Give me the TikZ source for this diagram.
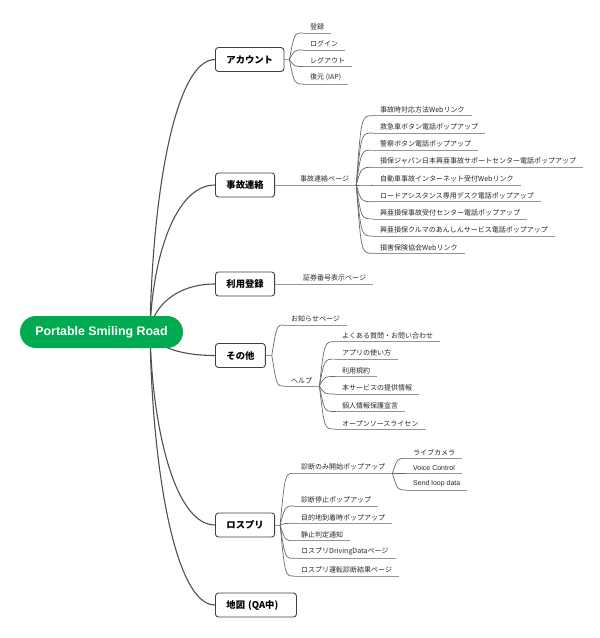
\documentclass[tikz,border=0pt]{standalone}
\usepackage{fontspec}
\setmainfont{Noto Sans CJK JP}
\newfontfamily\latinfont{Liberation Sans}
\usetikzlibrary{calc,backgrounds}

\definecolor{rootgreen}{RGB}{0,170,80}
\definecolor{trunkgray}{RGB}{80,80,80}
\definecolor{twiggray}{RGB}{105,105,105}
\definecolor{undergray}{RGB}{150,150,150}

\begin{document}
\begin{tikzpicture}[x=1pt,y=-1pt,
  root node/.style={rounded corners=16pt,fill=rootgreen,text=white,minimum width=163pt,minimum height=32pt,font=\latinfont\bfseries\fontsize{12.4}{14}\selectfont},
  main node/.style={anchor=west,draw=black!75,line width=0.9pt,rounded corners=3pt,fill=white,minimum height=24pt,inner xsep=11pt,font=\bfseries\fontsize{9.3}{11}\selectfont},
  under/.style={draw=undergray,line width=0.7pt},
  leaf/.style={anchor=south west,inner xsep=7pt,inner ysep=2.5pt,text=black!85,font=\fontsize{7}{8}\selectfont,
    append after command={(\tikzlastnode.south west) edge[under] (\tikzlastnode.south east)}},
  trunk/.style={draw=trunkgray,line width=1.1pt,
    to path={.. controls ($(\tikztostart)!.5!(\tikztostart |- \tikztotarget)+(2,0)$) and ($(\tikztotarget)+(-40,0)$) .. (\tikztotarget)}},
  twig/.style={draw=twiggray,line width=0.7pt,
    to path={.. controls ($(\tikztostart |- \tikztotarget)+(5,0)$) .. (\tikztotarget)}}]

  \useasboundingbox (0,0) rectangle (600,638);

  \node[root node] (root) at (101.5,332) {Portable Smiling Road};
  \coordinate (rootc) at (150,332);

  \node[main node] (acct) at (215,59.5) {アカウント};
  \node[main node] (jiko) at (215,185) {事故連絡};
  \node[main node] (riyou) at (215,284) {利用登録};
  \node[main node] (sonota) at (215,355.5) {その他};
  \node[main node] (rospuri) at (215,525) {ロスプリ};
  \node[main node,text width=59pt] (chizu) at (215,605) {地図 (QA中)};

  % アカウント
  \coordinate (acct-hub) at ($(acct.east)+(5,0)$);
  \node[leaf] (touroku) at (303,33) {登録};
  \node[leaf] (login) at (303,50) {ログイン};
  \node[leaf] (logout) at (303,66.5) {レグアウト};
  \node[leaf] (restore) at (303,84) {復元 (IAP)};

  % 事故連絡
  \node[leaf] (jikopage) at (293,185) {事故連絡ページ};
  \node[leaf] (j1) at (373,115.7) {事故時対応方法Webリンク};
  \node[leaf] (j2) at (373,132.9) {救急車ボタン電話ポップアップ};
  \node[leaf] (j3) at (373,150.1) {警察ボタン電話ポップアップ};
  \node[leaf] (j4) at (373,167.3) {損保ジャパン日本興亜事故サポートセンター電話ポップアップ};
  \node[leaf] (j5) at (373,185) {自動車事故インターネット受付Webリンク};
  \node[leaf] (j6) at (373,201.7) {ロードアシスタンス専用デスク電話ポップアップ};
  \node[leaf] (j7) at (373,218.9) {興亜損保事故受付センター電話ポップアップ};
  \node[leaf] (j8) at (373,236.1) {興亜損保クルマのあんしんサービス電話ポップアップ};
  \node[leaf] (j9) at (373,253.3) {損害保険協会Webリンク};

  % 利用登録
  \node[leaf] (shouken) at (296,284) {証券番号表示ページ};

  % その他
  \coordinate (sonota-hub) at ($(sonota.east)+(6,0)$);
  \node[leaf] (oshirase) at (284,325) {お知らせページ};
  \node[leaf] (help) at (284,386) {ヘルプ};
  \node[leaf] (h1) at (335,341.7) {よくある質問・お問い合わせ};
  \node[leaf] (h2) at (335,359.1) {アプリの使い方};
  \node[leaf] (h3) at (335,376.5) {利用規約};
  \node[leaf] (h4) at (335,394) {本サービスの提供情報};
  \node[leaf] (h5) at (335,411.5) {個人情報保護宣言};
  \node[leaf] (h6) at (335,429) {オープンソースライセン};

  % ロスプリ
  \coordinate (rospuri-hub) at ($(rospuri.east)+(5,0)$);
  \node[leaf] (shindan) at (294,473.3) {診断のみ開始ポップアップ};
  \node[leaf] (camera) at (406,458.3) {ライブカメラ};
  \node[leaf] (voice) at (406,473.3) {\latinfont Voice Control};
  \node[leaf] (loop) at (406,490) {\latinfont Send loop data};
  \node[leaf] (r2) at (294,506) {診断停止ポップアップ};
  \node[leaf] (r3) at (294,523.3) {目的地到着時ポップアップ};
  \node[leaf] (r4) at (294,540.7) {静止判定通知};
  \node[leaf] (r5) at (294,558.3) {ロスプリDrivingDataページ};
  \node[leaf] (r6) at (294,576) {ロスプリ運転診断結果ページ};

  \begin{pgfonlayer}{background}
  \path[trunk]
    (rootc) edge (acct.west)
    (rootc) edge (jiko.west)
    (rootc) edge (riyou.west)
    (rootc) edge (sonota.west)
    (rootc) edge (rospuri.west)
    (rootc) edge (chizu.west);
  \end{pgfonlayer}

  \path[under]
    (acct.east) edge (acct-hub)
    (jiko.east) edge (jikopage.south west)
    (riyou.east) edge (shouken.south west)
    (sonota.east) edge (sonota-hub)
    (rospuri.east) edge (rospuri-hub);

  \path[twig]
    (acct-hub) edge (touroku.south west)
    (acct-hub) edge (login.south west)
    (acct-hub) edge (logout.south west)
    (acct-hub) edge (restore.south west)
    (jikopage.south east) edge (j1.south west)
    (jikopage.south east) edge (j2.south west)
    (jikopage.south east) edge (j3.south west)
    (jikopage.south east) edge (j4.south west)
    (jikopage.south east) edge (j5.south west)
    (jikopage.south east) edge (j6.south west)
    (jikopage.south east) edge (j7.south west)
    (jikopage.south east) edge (j8.south west)
    (jikopage.south east) edge (j9.south west)
    (sonota-hub) edge (oshirase.south west)
    (sonota-hub) edge (help.south west)
    (help.south east) edge (h1.south west)
    (help.south east) edge (h2.south west)
    (help.south east) edge (h3.south west)
    (help.south east) edge (h4.south west)
    (help.south east) edge (h5.south west)
    (help.south east) edge (h6.south west)
    (rospuri-hub) edge (shindan.south west)
    (rospuri-hub) edge (r2.south west)
    (rospuri-hub) edge (r3.south west)
    (rospuri-hub) edge (r4.south west)
    (rospuri-hub) edge (r5.south west)
    (rospuri-hub) edge (r6.south west)
    (shindan.south east) edge (camera.south west)
    (shindan.south east) edge (voice.south west)
    (shindan.south east) edge (loop.south west);

\end{tikzpicture}
\end{document}
